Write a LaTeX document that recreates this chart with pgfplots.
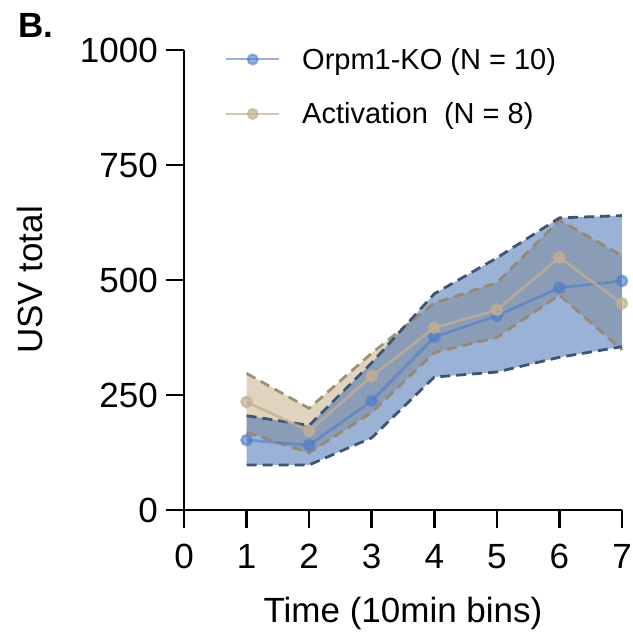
\documentclass[border=0pt]{standalone}
\usepackage{pgfplots}
\pgfplotsset{compat=1.18}
\usepgfplotslibrary{fillbetween}
\usepackage{fontspec}
\setmainfont{Liberation Sans}
\definecolor{kofill}{RGB}{55,101,175}
\definecolor{actfill}{RGB}{180,147,92}
\definecolor{kodash}{RGB}{65,85,115}
\definecolor{actdash}{RGB}{150,135,110}
\definecolor{koline}{RGB}{80,125,200}
\definecolor{actline}{RGB}{195,175,145}
\begin{document}
\begin{tikzpicture}
\begin{axis}[
  at={(0,0)}, anchor=south west,
  scale only axis, width=438bp, height=460bp,
  xmin=0, xmax=7, ymin=0, ymax=1000,
  clip=false,
  axis x line*=bottom, axis y line*=left,
  axis line style={line width=2.7bp,-},
  xtick={0,1,2,3,4,5,6,7}, ytick={0,250,500,750,1000},
  tick align=outside, major tick length=18bp,
  tick style={line width=2.7bp,black},
  /pgf/number format/assume math mode=true,
  /pgf/number format/1000 sep={},
  tick label style={font=\fontsize{35bp}{40bp}\selectfont},
  xticklabel style={inner sep=0pt, anchor=base, yshift=-41bp},
  yticklabel style={inner sep=0pt, anchor=east, xshift=-8bp},
  xlabel={Time (10min bins)},
  ylabel={USV total},
  label style={font=\fontsize{35bp}{40bp}\selectfont},
  xlabel style={at={(axis description cs:0.5,-0.2435)}, anchor=base, inner sep=0pt},
  ylabel style={at={(axis description cs:-0.324,0.5)}, anchor=base, inner sep=0pt},
  legend style={at={(axis description cs:0.0868,1.013)}, anchor=north west, draw=none, fill=none,
    font=\fontsize{29bp}{34bp}\selectfont, row sep=28bp,
    /tikz/every odd column/.append style={column sep=20bp}},
  legend cell align=left,
  legend image code/.code={\draw[mark repeat=2,mark phase=2,#1,line width=2bp] plot coordinates {(0bp,0bp) (26.5bp,0bp) (53bp,0bp)};},
]
% Activation bounds
\addplot[name path=actu, forget plot, actdash, opacity=0.9, line width=2.8bp, dash pattern=on 10bp off 6bp]
  coordinates {(1,297)(2,221)(3,341)(4,450)(5,494)(6,630)(7,553)};
\addplot[name path=actl, forget plot, actdash, opacity=0.9, line width=2.8bp, dash pattern=on 10bp off 6bp]
  coordinates {(1,169)(2,124)(3,212)(4,342)(5,375)(6,467)(7,348)};
% KO bounds
\addplot[name path=kou, forget plot, kodash, line width=2.8bp, dash pattern=on 10bp off 6bp]
  coordinates {(1,205)(2,184)(3,320)(4,470)(5,548)(6,635)(7,640)};
\addplot[name path=kol, forget plot, kodash, line width=2.8bp, dash pattern=on 10bp off 6bp]
  coordinates {(1,98)(2,98)(3,157)(4,289)(5,300)(6,332)(7,355)};
\addplot[actfill, fill opacity=0.4, draw=none, forget plot] fill between[of=actu and actl];
\addplot[kofill, fill opacity=0.5, draw=none, forget plot] fill between[of=kou and kol];
% Means
\addplot[koline, opacity=0.6, line width=2.8bp, mark=*, mark size=5bp, mark options={draw=none, fill=koline}]
  coordinates {(1,152)(2,141)(3,237)(4,376)(5,422)(6,483)(7,498)};
\addlegendentry{Orpm1-KO (N = 10)}
\addplot[actline, opacity=0.7, line width=2.8bp, mark=*, mark size=5bp, mark options={draw=none, fill=actline}]
  coordinates {(1,235)(2,172)(3,291)(4,396)(5,435)(6,549)(7,449)};
\addlegendentry{Activation~~(N = 8)}
\end{axis}
\node[anchor=base west, inner sep=0pt, font=\fontsize{35bp}{40bp}\selectfont\bfseries] at (-166bp,472bp) {B.};
\pgfresetboundingbox
\useasboundingbox (-184bp,-123bp) rectangle (449bp,510bp);
\end{tikzpicture}
\end{document}
